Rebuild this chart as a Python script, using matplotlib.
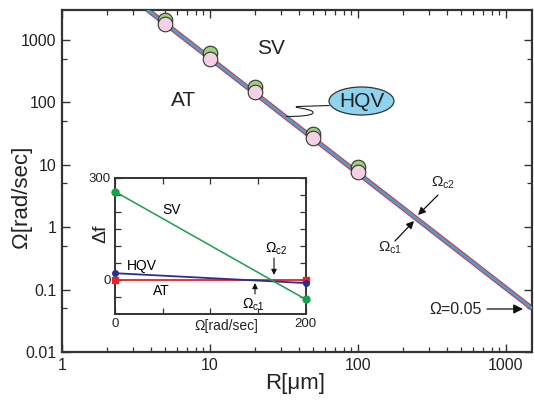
import matplotlib
matplotlib.use("Agg")
import matplotlib.pyplot as plt
from matplotlib.patches import Ellipse, PathPatch, FancyArrowPatch
from matplotlib.path import Path
from matplotlib.ticker import LogLocator, FixedLocator, NullFormatter, FixedFormatter

plt.rcParams['font.family'] = ['Liberation Sans', 'DejaVu Sans']
plt.rcParams['mathtext.fontset'] = 'custom'
plt.rcParams['mathtext.rm'] = 'Liberation Sans'
plt.rcParams['mathtext.it'] = 'Liberation Sans'

# ---- data (main panel) ----
R_points = [5, 10, 20, 50, 100]
Omega_green = [2090, 610, 177, 31.2, 9.2]
Omega_pink = [1800, 496, 147, 26.9, 7.6]
line_R = [1, 1500]
line_Omega = [35000, 0.05]

x_ticks = [1, 10, 100, 1000]
x_ticklabels = ['1', '10', '100', '1000']
y_ticks = [0.01, 0.1, 1, 10, 100, 1000]
y_ticklabels = ['0.01', '0.1', '1', '10', '100', '1000']

# ---- data (inset) ----
inset_Omega = [0, 200]
df_SV = [260, -57]
df_HQV = [20, -9]
df_AT = [0, 0]
inset_xticks = [0, 200]
inset_yticks = [0, 300]

dark = '#333333'
fig = plt.figure(figsize=(5.34, 4.03), dpi=100)
ax = fig.add_axes([62/534, 51/403, 470/534, 342/403])
ax.set_xscale('log')
ax.set_yscale('log')
ax.set_xlim(1, 1500)
ax.set_ylim(0.01, 3000)

ax.plot(line_R, line_Omega, color='#e8323c', lw=3.6, solid_capstyle='butt', zorder=2)
ax.plot(line_R, line_Omega, color='#3aa6d8', lw=2.0, solid_capstyle='butt', zorder=3)
ax.plot(R_points, Omega_green, 'o', ms=10.5, mfc='#9ccf7a', mec='#333333', mew=0.8, zorder=4)
ax.plot(R_points, Omega_pink, 'o', ms=10.5, mfc='#f3d0e3', mec='#333333', mew=0.8, zorder=5)

ax.xaxis.set_major_locator(FixedLocator(x_ticks))
ax.xaxis.set_major_formatter(FixedFormatter(x_ticklabels))
ax.xaxis.set_minor_locator(LogLocator(base=10, subs=range(2, 10)))
ax.xaxis.set_minor_formatter(NullFormatter())
ax.yaxis.set_major_locator(FixedLocator(y_ticks))
ax.yaxis.set_major_formatter(FixedFormatter(y_ticklabels))
ax.yaxis.set_minor_locator(LogLocator(base=10, subs=[5]))
ax.yaxis.set_minor_formatter(NullFormatter())
ax.tick_params(which='both', direction='in', top=True, right=True, colors=dark, labelcolor='#222222')
ax.tick_params(which='major', length=6, width=1.0, labelsize=11.5, pad=4)
ax.tick_params(which='minor', length=3.5, width=0.9)
for s in ax.spines.values():
    s.set_linewidth(1.6)
    s.set_color(dark)

ax.set_xlabel('R[μm]', fontsize=16, color='#222222')
ax.xaxis.set_label_coords(0.496, -0.091)
ax.xaxis.label.set_va('center')
ax.set_ylabel('Ω[rad/sec]', fontsize=16, color='#222222')
ax.yaxis.set_label_coords(-0.087, 0.453)
ax.yaxis.label.set_va('center')

def fx(px):
    return (px - 62) / 470
def fy(py):
    return (352 - py) / 342

ax.text(fx(271), fy(48), 'SV', fontsize=15, ha='center', va='center', transform=ax.transAxes, color='#222222')
ax.text(fx(184), fy(100), 'AT', fontsize=15, ha='center', va='center', transform=ax.transAxes, color='#222222')

ell = Ellipse((fx(361.5), fy(101)), 65/470, 28/342, transform=ax.transAxes,
              facecolor='#8fd4ef', edgecolor='#333333', lw=0.9, zorder=6)
ax.add_patch(ell)
ax.text(fx(361.5), fy(101.5), 'HQV', fontsize=15, ha='center', va='center', transform=ax.transAxes,
        color='#222222', zorder=7)
verts = [(fx(329.5), fy(105.5)), (fx(298), fy(106.5)),
         (fx(289), fy(107.5)), (fx(313), fy(108.5)), (fx(313), fy(112.5)),
         (fx(313), fy(116)), (fx(297), fy(116.5)), (fx(286), fy(116.5))]
codes = [Path.MOVETO, Path.LINETO,
         Path.CURVE4, Path.CURVE4, Path.CURVE4,
         Path.CURVE4, Path.CURVE4, Path.CURVE4]
ax.add_patch(PathPatch(Path(verts, codes), transform=ax.transAxes, fill=False,
                       edgecolor='#222222', lw=0.8, zorder=6))

def arrow(axes, conv_x, conv_y, p0, p1, ms=11, lw=0.9):
    a = FancyArrowPatch((conv_x(p0[0]), conv_y(p0[1])), (conv_x(p1[0]), conv_y(p1[1])),
                        transform=axes.transAxes, arrowstyle='-|>', color='#111111',
                        lw=lw, mutation_scale=ms, shrinkA=0, shrinkB=0, zorder=8)
    axes.add_patch(a)

ax.text(fx(443), fy(183), r'$\Omega_{\rm c2}$', fontsize=11, ha='center', va='center',
        transform=ax.transAxes, color='#222222')
arrow(ax, fx, fy, (438, 195), (418, 215))
ax.text(fx(390), fy(248), r'$\Omega_{\rm c1}$', fontsize=11, ha='center', va='center',
        transform=ax.transAxes, color='#222222')
arrow(ax, fx, fy, (395, 241), (414, 221))
ax.text(fx(456), fy(309), 'Ω=0.05', fontsize=11.5, ha='center', va='center', transform=ax.transAxes,
        color='#222222')
arrow(ax, fx, fy, (487, 309), (523, 309), ms=14)

# ---- inset ----
ai = fig.add_axes([115/534, 89/403, 190.7/534, 136/403])
ai.set_xlim(0, 200)
ai.set_ylim(-100, 300)
ai.plot(inset_Omega, df_AT, color='#e8202a', lw=1.3, zorder=3)
ai.plot(inset_Omega, df_AT, 's', color='#e8202a', ms=5, zorder=3, clip_on=False)
ai.plot(inset_Omega, df_HQV, color='#2b2f8f', lw=1.3, zorder=4)
ai.plot(inset_Omega, df_HQV, 'o', color='#2b2f8f', ms=4, zorder=4, clip_on=False)
ai.plot(inset_Omega, df_SV, color='#1aa04a', lw=1.1, zorder=5)
ai.plot(inset_Omega, df_SV, 'o', color='#1aa04a', ms=5, zorder=5, clip_on=False)

ai.xaxis.set_major_locator(FixedLocator(inset_xticks))
ai.xaxis.set_minor_locator(FixedLocator([50, 100, 150]))
ai.yaxis.set_major_locator(FixedLocator(inset_yticks))
ai.yaxis.set_minor_locator(FixedLocator([-50, 50, 100, 150, 200, 250]))
ai.tick_params(which='both', direction='in', top=True, right=True, colors=dark, labelcolor='#222222')
ai.tick_params(which='major', length=4, width=0.9, labelsize=9.5, pad=3)
ai.tick_params(which='minor', length=4, width=0.9)
for s in ai.spines.values():
    s.set_linewidth(1.4)
    s.set_color(dark)

ai.set_xlabel('Ω[rad/sec]', fontsize=10, color='#222222')
ai.xaxis.set_label_coords(0.582, -0.088)
ai.xaxis.label.set_va('center')
ai.set_ylabel('Δf', fontsize=14, color='#222222')
ai.yaxis.set_label_coords(-0.073, 0.588)
ai.yaxis.label.set_va('center')

def gx(px):
    return (px - 115) / 190.7
def gy(py):
    return (314 - py) / 136

ai.text(gx(172), gy(210), 'SV', fontsize=10, ha='center', va='center', transform=ai.transAxes)
ai.text(gx(142), gy(266), 'HQV', fontsize=10, ha='center', va='center', transform=ai.transAxes)
ai.text(gx(161), gy(291), 'AT', fontsize=10, ha='center', va='center', transform=ai.transAxes)
ai.text(gx(276), gy(249), r'$\Omega_{\rm c2}$', fontsize=10, ha='center', va='center', transform=ai.transAxes)
arrow(ai, gx, gy, (274, 258), (274, 275), ms=8, lw=0.8)
ai.text(gx(253), gy(305), r'$\Omega_{\rm c1}$', fontsize=10, ha='center', va='center', transform=ai.transAxes)
arrow(ai, gx, gy, (255, 294), (255, 283), ms=8, lw=0.8)

fig.savefig('out.png', dpi=100)
